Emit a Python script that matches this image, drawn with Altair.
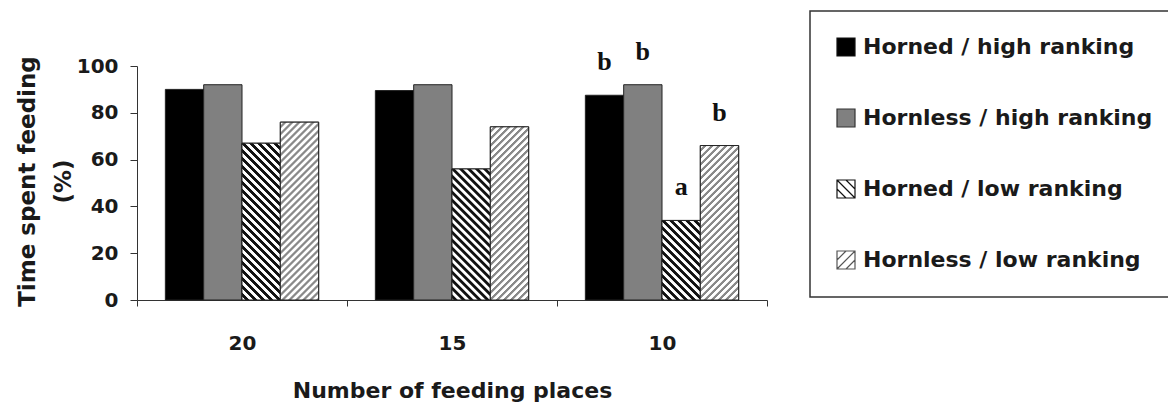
import altair as alt
import pandas as pd

# ---------------- data ----------------
categories = ["20", "15", "10"]
series = [
    "Horned / high ranking",
    "Hornless / high ranking",
    "Horned / low ranking",
    "Hornless / low ranking",
]
horned_high = [90, 89.5, 87.5]
hornless_high = [92, 92, 92]
horned_low = [67, 56, 34]
hornless_low = [76, 74, 66]
letters_at_10 = ["b", "b", "a", "b"]

values = [horned_high, hornless_high, horned_low, hornless_low]
rows = []
for si, s in enumerate(series):
    for ci, c in enumerate(categories):
        rows.append({
            "places": c,
            "group": s,
            "pct": values[si][ci],
            "letter": letters_at_10[si] if c == "10" else "",
        })
df = pd.DataFrame(rows)

# ---------------- layout / style ----------------
W, H = 630, 234
PO = 0.74
band = W / len(categories)
barw = band / (len(series) + 2 * PO)
FONT = "DejaVu Sans"


def stripe_gradient(h_px, w_px, back, dark, light, period, frac):
    """Diagonal 45-degree stripes, expressed in bounding-box units.
    The gradient vector is scaled so that t runs from 0 to 1 across the bar."""
    s = (w_px + h_px) * w_px / (w_px ** 2 + h_px ** 2)
    if back:  # "\" stripes, starting at the top-right corner
        x1, y1, x2, y2 = 1, 0, 1 - s, s * h_px / w_px
    else:  # "/" stripes, starting at the top-left corner
        x1, y1, x2, y2 = 0, 0, s, s * h_px / w_px
    n = (w_px + h_px) / period
    ramp = 0.12
    stops = []
    k = 0
    while k / n < 1:
        pts = [
            (k, light),
            (k + 1 - frac - ramp, light),
            (k + 1 - frac, dark),
            (k + 1 - ramp, dark),
        ]
        for p, col in pts:
            stops.append({"offset": min(p / n, 1), "color": col})
        k += 1
    stops.append({"offset": 1, "color": light})
    return {"gradient": "linear", "x1": x1, "y1": y1, "x2": x2, "y2": y2, "stops": stops}


hatch_style = {
    "Horned / low ranking": dict(back=True, dark="#111111", light="#ffffff", period=8, frac=0.5),
    "Hornless / low ranking": dict(back=False, dark="#8a8a8a", light="#ffffff", period=7, frac=0.45),
}

# legend symbol shapes (unit square, optionally with diagonal hatch lines)
SQ = "M-1,-1H1V1H-1Z"
BACK = SQ + " M-1,-1L1,1 M0,-1L1,0 M-1,0L0,1"
FWD = SQ + " M-1,1L1,-1 M0,1L1,0 M-1,0L0,-1"

x_enc = alt.X(
    "places:N",
    sort=categories,
    scale=alt.Scale(domain=categories, paddingInner=0, paddingOuter=0),
    axis=alt.Axis(
        title="Number of feeding places",
        labelAngle=0,
        tickBand="extent",
        tickSize=6,
        labelPadding=27,
        labelFont=FONT,
        labelFontWeight="bold",
        labelFontSize=20,
        labelColor="#1a1a1a",
        domainColor="#333333",
        tickColor="#333333",
        titleFont=FONT,
        titleFontWeight="bold",
        titleFontSize=22,
        titleColor="#1a1a1a",
        titleBaseline="top",
        titleY=80,
        titleX=W / 2,
    ),
)
xo_enc = alt.XOffset(
    "group:N",
    scale=alt.Scale(domain=series, paddingOuter=PO, paddingInner=0),
)
y_enc = alt.Y(
    "pct:Q",
    scale=alt.Scale(domain=[0, 100]),
    axis=alt.Axis(
        values=[0, 20, 40, 60, 80, 100],
        grid=False,
        tickSize=7,
        labelPadding=12,
        labelFont=FONT,
        labelFontWeight="bold",
        labelFontSize=20,
        labelColor="#1a1a1a",
        domainColor="#333333",
        tickColor="#333333",
        title=["Time spent feeding", "(%)"],
        titleFont=FONT,
        titleFontWeight="bold",
        titleFontSize=23,
        titleColor="#1a1a1a",
        titleLineHeight=36,
        titleAngle=270,
        titleAlign="center",
        titleBaseline="top",
        titleX=-121,
        titleY=H / 2 - 2,
    ),
)

legend = alt.Legend(
    title=None,
    orient="none",
    legendX=673,
    legendY=-55,
    direction="vertical",
    symbolSize=324,
    symbolStrokeWidth=1.2,
    symbolOpacity=1,
    labelFont=FONT,
    labelFontWeight="bold",
    labelFontSize=22,
    labelColor="#1a1a1a",
    labelOffset=6,
    labelLimit=400,
    rowPadding=47,
    padding=25,
    strokeColor="#333333",
    fillColor="#ffffff",
)

# legend-carrying layer: its points sit inside the bars and are covered by them
legend_layer = (
    alt.Chart(df)
    .mark_point(filled=True, opacity=1, strokeWidth=1, size=100)
    .encode(
        x=x_enc,
        xOffset=xo_enc,
        y=alt.YDatum(10),
        fill=alt.Fill("group:N", scale=alt.Scale(domain=series,
                      range=["#000000", "#808080", "#ffffff", "#ffffff"]), legend=legend),
        stroke=alt.Stroke("group:N", scale=alt.Scale(domain=series,
                          range=["#111111", "#333333", "#111111", "#555555"]), legend=legend),
        shape=alt.Shape("group:N", scale=alt.Scale(domain=series,
                        range=[SQ, SQ, BACK, FWD]), legend=legend),
    )
)

base = alt.Chart(df).mark_bar(stroke="#222222", strokeWidth=1, opacity=1).encode(
    x=x_enc,
    xOffset=xo_enc,
    y=y_enc,
    color=alt.Color(
        "group:N",
        scale=alt.Scale(domain=series, range=["#000000", "#808080", "#ffffff", "#ffffff"]),
        legend=None,
    ),
)

layers = [legend_layer, base]
for si, s in enumerate(series):
    if s not in hatch_style:
        continue
    st = hatch_style[s]
    for ci, c in enumerate(categories):
        h_px = values[si][ci] / 100 * H
        grad = stripe_gradient(h_px, barw, st["back"], st["dark"], st["light"], st["period"], st["frac"])
        layers.append(
            alt.Chart(df)
            .transform_filter((alt.datum.group == s) & (alt.datum.places == c))
            .mark_bar(fill=grad, stroke="#222222", strokeWidth=1, opacity=1)
            .encode(x=x_enc, xOffset=xo_enc, y=y_enc)
        )

letters = (
    alt.Chart(df)
    .transform_filter(alt.datum.letter != "")
    .mark_text(font="Liberation Serif", fontWeight="bold", fontSize=26,
               baseline="alphabetic", dy=-25, color="#111111")
    .encode(x=x_enc, xOffset=xo_enc, y=y_enc, text="letter:N")
)
layers.append(letters)

chart = (
    alt.layer(*layers)
    .properties(
        width=W,
        height=H,
        autosize=alt.AutoSizeParams(type="none"),
        padding={"left": 137, "top": 66, "right": 401, "bottom": 105},
        background="#ffffff",
    )
    .configure_view(stroke="transparent")
    .configure_legend(strokeWidth=1.5)
)

chart.save("out.html", embed_options={"renderer": "svg", "actions": False})
